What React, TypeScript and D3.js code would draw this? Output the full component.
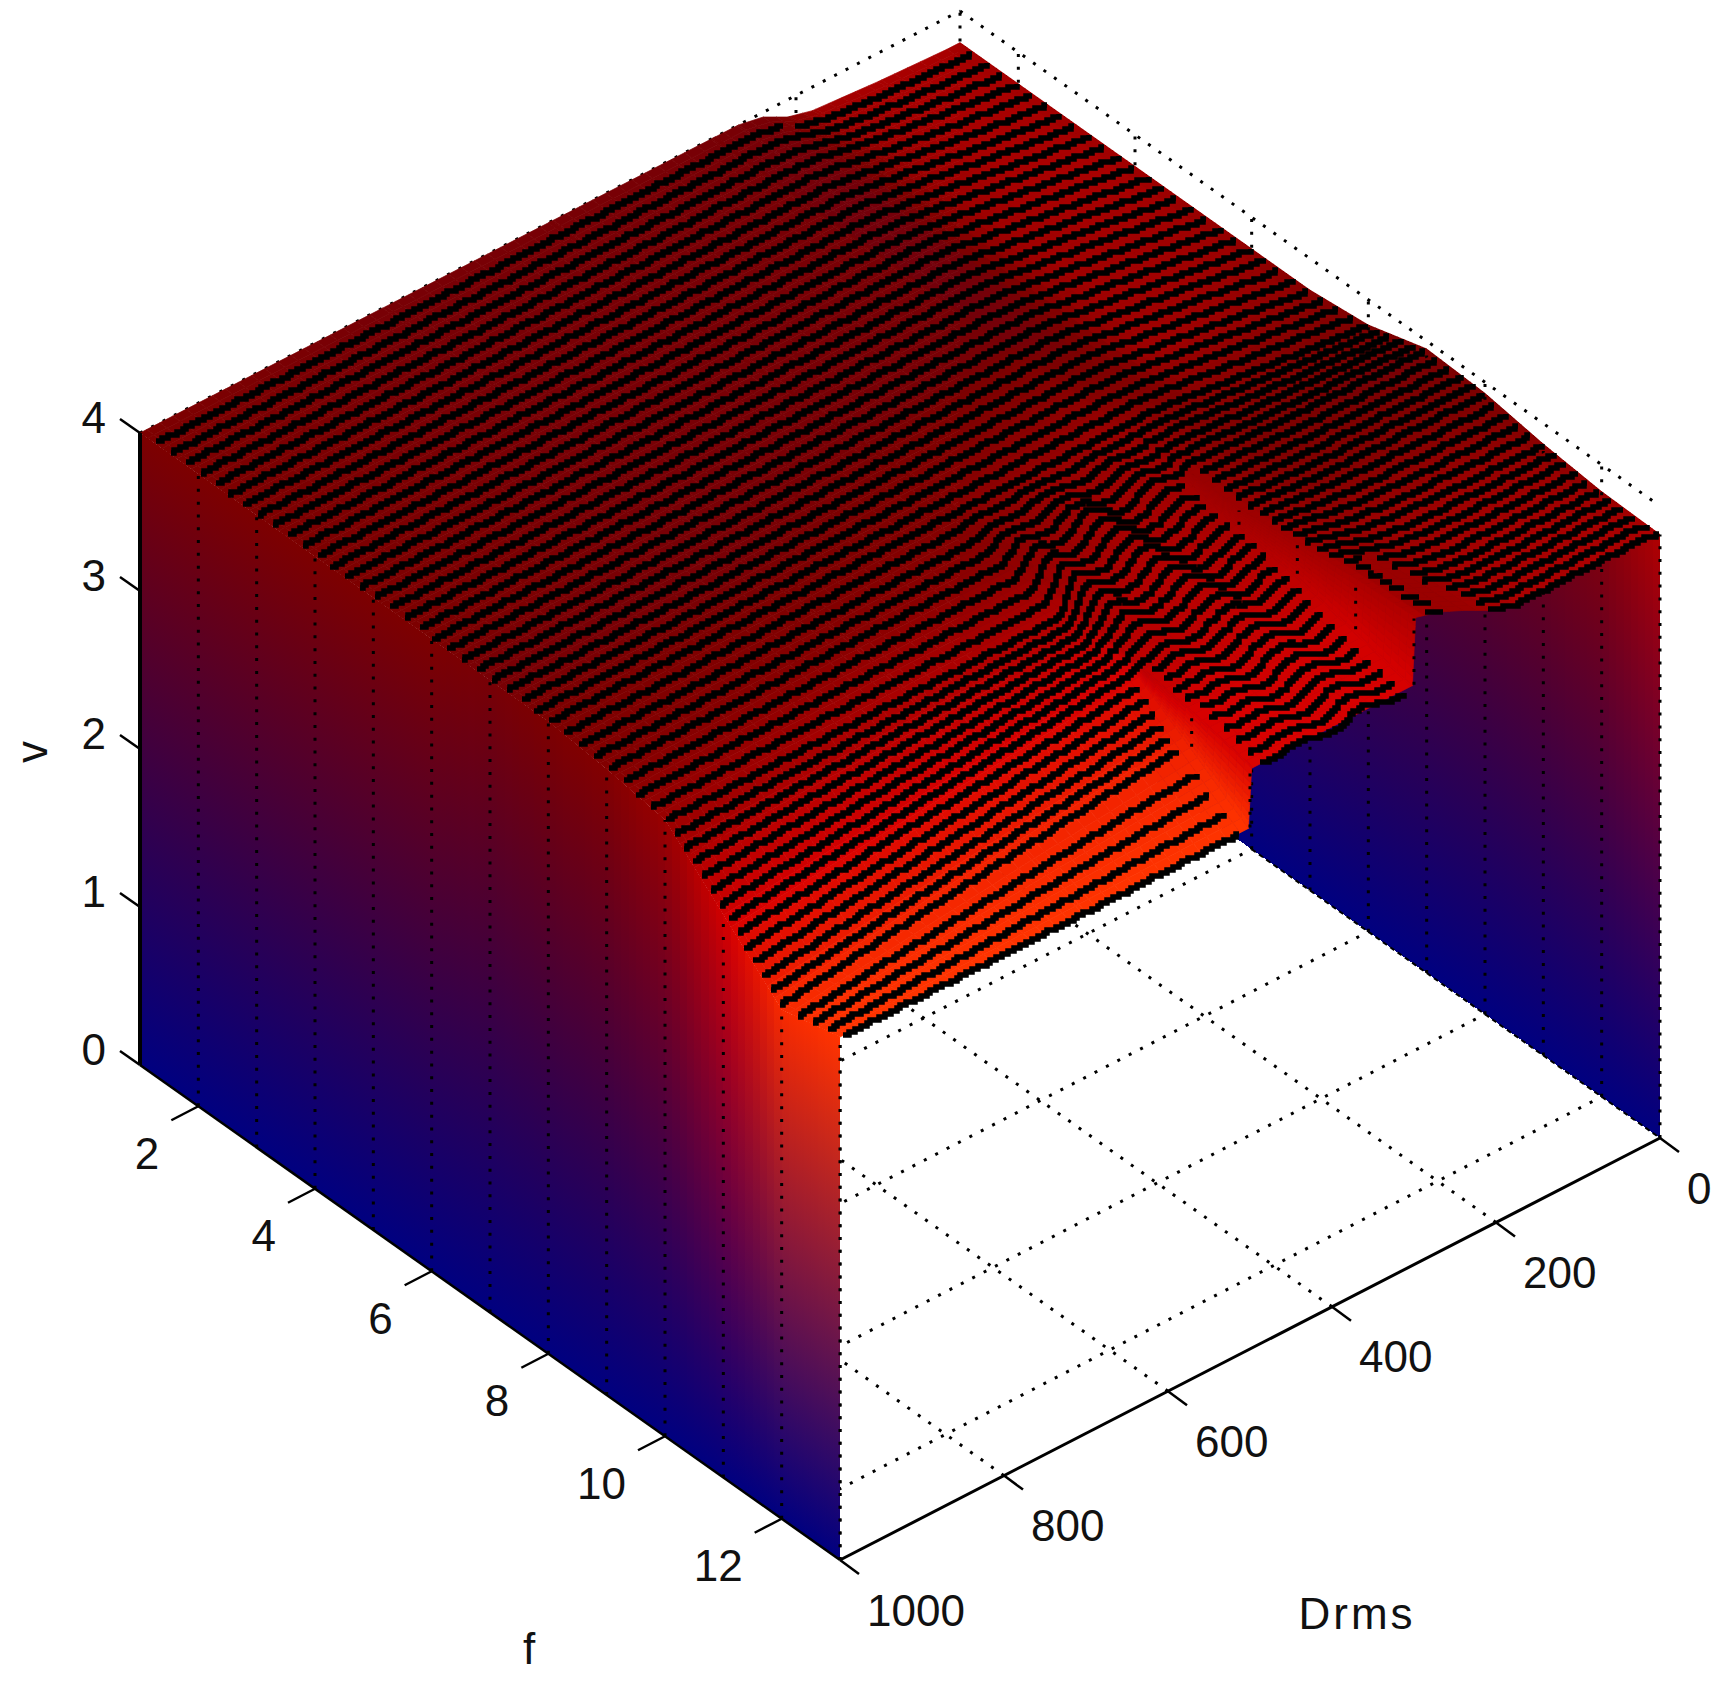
import React, { useEffect, useRef } from 'react';
import * as d3 from 'd3';

const W = 1711;
const H = 1685;

// axis ticks
const fTicks = [2, 4, 6, 8, 10, 12];
const drmsTicks = [0, 200, 400, 600, 800, 1000];
const vTicks = [0, 1, 2, 3, 4];
const wallDots = [2, 3, 4, 5, 6, 7, 8, 9, 10, 11, 12, 13];

// surface: one row per f, one column per Drms knot
const fKnots = [1, 2, 3, 4, 5, 6, 7, 8, 9, 10, 11, 12, 13];
const drmsKnots = [0, 16, 100, 180, 210, 240, 270, 298, 302, 400, 498, 502, 700, 1000];

const vTable = [
  [3.80, 3.80, 3.82, 3.85, 3.89, 3.97, 4.00, 4.00, 4.00, 4.00, 4.00, 4.00, 4.00, 4.00],
  [3.80, 3.81, 3.86, 3.92, 3.95, 3.98, 4.00, 4.00, 4.00, 4.00, 4.00, 4.00, 4.00, 4.00],
  [3.80, 3.81, 3.87, 3.94, 3.96, 3.98, 4.00, 4.00, 4.00, 4.00, 4.00, 4.00, 4.00, 4.00],
  [3.80, 3.81, 3.88, 3.94, 3.96, 3.99, 4.00, 4.00, 4.00, 4.00, 4.00, 4.00, 4.00, 4.00],
  [3.80, 3.81, 3.88, 3.94, 3.96, 3.99, 4.00, 4.00, 4.00, 4.00, 4.00, 4.00, 4.00, 4.00],
  [3.80, 3.81, 3.88, 3.94, 3.96, 3.99, 4.00, 4.00, 4.00, 4.00, 4.00, 4.00, 4.00, 4.00],
  [3.80, 3.81, 3.88, 3.94, 3.96, 3.99, 4.00, 4.00, 4.00, 4.00, 4.00, 4.00, 4.00, 4.00],
  [3.84, 3.85, 3.90, 3.95, 3.97, 3.99, 4.00, 4.00, 4.00, 4.00, 4.00, 4.00, 4.00, 4.00],
  [3.95, 3.95, 3.96, 3.97, 3.98, 3.99, 4.00, 4.00, 3.97, 3.97, 3.98, 3.97, 3.97, 3.96],
  [3.93, 3.93, 3.94, 3.95, 3.96, 3.97, 3.98, 3.99, 3.90, 3.90, 3.91, 3.90, 3.90, 3.90],
  [3.87, 3.87, 3.88, 3.90, 3.92, 3.95, 4.00, 4.03, 3.85, 3.83, 3.81, 3.80, 3.70, 3.56],
  [3.83, 3.85, 3.85, 3.86, 3.89, 3.95, 4.03, 4.07, 3.76, 3.75, 3.75, 3.55, 3.43, 3.22],
  [3.82, 3.85, 3.85, 3.85, 3.90, 3.98, 4.05, 4.09, 3.67, 3.67, 3.67, 3.30, 3.30, 3.31],
];

// colour value of the same knots, 0 is the bottom of the map and 1 the top
const cTable = [
  [.62, .65, .65, .62, .52, .48, .48, .48, .48, .48, .48, .48, .48, .50],
  [.62, .65, .65, .60, .50, .47, .47, .47, .48, .48, .48, .48, .48, .50],
  [.60, .65, .65, .60, .52, .46, .46, .46, .48, .48, .48, .48, .48, .50],
  [.60, .65, .65, .62, .55, .47, .46, .46, .48, .48, .48, .48, .48, .50],
  [.58, .62, .63, .62, .56, .48, .46, .46, .48, .48, .48, .48, .48, .50],
  [.55, .60, .62, .62, .58, .50, .47, .47, .48, .48, .48, .48, .48, .50],
  [.52, .56, .60, .62, .60, .52, .50, .52, .54, .52, .50, .50, .48, .48],
  [.50, .50, .52, .55, .55, .52, .55, .58, .60, .58, .54, .52, .50, .50],
  [.50, .48, .48, .50, .50, .52, .56, .60, .62, .62, .56, .56, .54, .52],
  [.50, .50, .52, .52, .52, .54, .58, .62, .66, .68, .65, .68, .66, .60],
  [.52, .58, .60, .60, .60, .58, .60, .64, .72, .72, .72, .80, .80, .78],
  [.56, .62, .64, .64, .62, .60, .60, .66, .78, .78, .80, .93, .94, .96],
  [.68, .66, .66, .66, .62, .60, .60, .68, .80, .80, .82, 1.0, 1.0, 1.0],
];

// wiggle of the mesh lines between the two steps
const rippleDrms = [300, 310, 320, 330, 340, 350, 360, 370, 380, 390, 400, 410, 420, 430, 440, 450, 460, 470, 480, 490, 500];
const rippleV = [0, .02, .03, .02, 0, -.03, -.045, -.03, 0, .035, .05, .035, 0, -.035, -.045, -.03, 0, .02, .03, .015, 0];
const rippleF = [8, 9, 10, 11, 12, 13];
const rippleWeight = [0, 1.2, 1.2, .9, .9, .7];

const colorDomain = [0, .5, .65, .8, 1];
const colorRange = ['#000080', '#7d0000', '#a80000', '#d70000', '#ff3400'];

// projection, corners of the box measured on the picture
const xF = d3.scaleLinear().domain([1, 13]).range([0, 700]);
const yF = d3.scaleLinear().domain([1, 13]).range([0, 495]);
const xD = d3.scaleLinear().domain([1000, 0]).range([0, 820]);
const yD = d3.scaleLinear().domain([1000, 0]).range([0, -422]);
const yV = d3.scaleLinear().domain([0, 4]).range([0, -632]);
const project = (f: number, d: number, v: number): [number, number] => [
  140 + xF(f) + xD(d),
  1065 + yF(f) + yD(d) + yV(v),
];

const lookup = (table: number[][], f: number, d: number) => {
  const i = Math.min(fKnots.length - 2, Math.max(0, d3.bisectRight(fKnots, f) - 1));
  const j = Math.min(drmsKnots.length - 2, Math.max(0, d3.bisectRight(drmsKnots, d) - 1));
  const tf = (f - fKnots[i]) / (fKnots[i + 1] - fKnots[i]);
  const td = (d - drmsKnots[j]) / (drmsKnots[j + 1] - drmsKnots[j]);
  const a = table[i][j] + (table[i][j + 1] - table[i][j]) * td;
  const b = table[i + 1][j] + (table[i + 1][j + 1] - table[i + 1][j]) * td;
  return a + (b - a) * tf;
};

const colormap = d3.scaleLinear<string>().domain(colorDomain).range(colorRange).interpolate(d3.interpolateRgb);
const rippleOfD = d3.scaleLinear().domain(rippleDrms).range(rippleV).clamp(true);
const rippleOfF = d3.scaleLinear().domain(rippleF).range(rippleWeight).clamp(true);

const DOTS = '3 9.8';

function App() {
  const ref = useRef<SVGSVGElement>(null);

  useEffect(() => {
    const svg = d3.select(ref.current);
    svg.selectAll('*').remove();
    const defs = svg.append('defs');
    const g = svg.append('g');
    const segment = (a: [number, number], b: [number, number], width: number, dash?: string) => {
      const l = g.append('line')
        .attr('x1', a[0]).attr('y1', a[1]).attr('x2', b[0]).attr('y2', b[1])
        .attr('stroke', '#000').attr('stroke-width', width);
      if (dash) l.attr('stroke-dasharray', dash);
      return l;
    };

    // grid behind the surface
    fTicks.forEach((f) => {
      segment(project(f, 1000, 0), project(f, 0, 0), 3, DOTS);
      segment(project(f, 0, 0), project(f, 0, 4), 3, DOTS);
    });
    drmsTicks.slice(1, 5).forEach((d) => {
      segment(project(13, d, 0), project(1, d, 0), 3, DOTS);
      segment(project(1, d, 0), project(1, d, 4), 3, DOTS);
    });
    segment(project(1, 1000, 4), project(1, 0, 4), 3, DOTS);
    segment(project(1, 0, 4), project(13, 0, 4), 3, DOTS);
    segment(project(1, 0, 0), project(1, 0, 4), 3, DOTS);
    segment(project(13, 1000, 0), project(13, 1000, 4), 3, DOTS);

    // surface strips, far to near
    const drmsSamples = Array.from(new Set([
      ...d3.range(0, 1000, 16),
      ...d3.range(298, 302.01, 0.5),
      ...d3.range(498, 502.01, 0.5),
      ...drmsKnots,
    ])).sort((a, b) => a - b);
    const quad = (pts: [number, number][], fill: string) => {
      g.append('path')
        .attr('d', 'M' + pts.map((p) => p.join(',')).join('L') + 'Z')
        .attr('fill', fill)
        .attr('stroke', fill)
        .attr('stroke-width', 0.7);
    };
    let gradId = 0;
    const wall = (f0: number, f1: number, d: number) => {
      const fm = (f0 + f1) / 2;
      const b0 = project(f0, d, 0);
      const b1 = project(f1, d, 0);
      const t0 = project(f0, d, lookup(vTable, f0, d));
      const t1 = project(f1, d, lookup(vTable, f1, d));
      // gradient runs square to the foot of the wall, so its colour bands follow the foot
      const sx = b1[0] - b0[0];
      const sy = b1[1] - b0[1];
      const len = Math.hypot(sx, sy);
      const nx = sy / len;
      const ny = -sx / len;
      const height = project(fm, d, 0)[1] - project(fm, d, lookup(vTable, fm, d))[1];
      const reach = -height * ny;
      const id = `wall${gradId++}`;
      const grad = defs.append('linearGradient')
        .attr('id', id)
        .attr('gradientUnits', 'userSpaceOnUse')
        .attr('x1', b0[0]).attr('y1', b0[1])
        .attr('x2', b0[0] + nx * reach).attr('y2', b0[1] + ny * reach);
      grad.append('stop').attr('offset', 0).attr('stop-color', colormap(0));
      grad.append('stop').attr('offset', 1).attr('stop-color', colormap(lookup(cTable, fm, d)));
      g.append('path')
        .attr('d', 'M' + [b0, b1, t1, t0].map((p) => p.join(',')).join('L') + 'Z')
        .attr('fill', `url(#${id})`)
        .attr('shape-rendering', 'crispEdges');
    };

    const strips = d3.range(1, 13, 0.125);
    strips.forEach((f0) => {
      const f1 = f0 + 0.125;
      wall(f0, f1, 0);
      if (f0 > 5.9) segment(project(f0, 0, 0), project(f1, 0, 0), 2, '5 4');
      for (let k = 0; k < drmsSamples.length - 1; k++) {
        const d0 = drmsSamples[k];
        const d1 = drmsSamples[k + 1];
        const dm = (d0 + d1) / 2;
        quad([
          project(f0, d0, lookup(vTable, f0, d0)),
          project(f1, d0, lookup(vTable, f1, d0)),
          project(f1, d1, lookup(vTable, f1, d1)),
          project(f0, d1, lookup(vTable, f0, d1)),
        ], colormap(lookup(cTable, f0 + 0.0625, dm)));
      }
      // dotted line of the back wall, covered by whatever comes nearer
      if (wallDots.includes(f0)) {
        segment(project(f0, 0, 0), project(f0, 0, lookup(vTable, f0, 0)), 3, DOTS);
      }
    });
    strips.forEach((f0) => wall(f0, f0 + 0.125, 1000));
    wallDots.forEach((f) => {
      segment(project(f, 1000, 0), project(f, 1000, lookup(vTable, f, 1000)), 3, DOTS);
      [300, 500].forEach((d) => {
        const hi = lookup(vTable, f, d - 2);
        const lo = lookup(vTable, f, d + 2);
        if (hi - lo > 0.04) segment(project(f, d, lo), project(f, d, hi), 3, DOTS);
      });
    });
    segment(project(13, 0, 0), project(13, 0, lookup(vTable, 13, 0)), 3, DOTS);

    // mesh lines along Drms, blocky like the source bitmap
    // they bunch up towards the D=1000 wall above f=10 and even out again behind the first step
    const meshFront = [...d3.range(1.25, 10.01, 0.25), ...d3.range(10.15, 12.01, 0.15), ...d3.range(12.25, 13.01, 0.25)];
    const firstBack = meshFront.findIndex((f) => f > 8);
    const backStep = 5 / (meshFront.length - firstBack);
    const meshBack = meshFront.map((f, i) => (i < firstBack ? f : 8 + (i - firstBack + 1) * backStep));
    const meshDrms = d3.range(998, 1, -4);
    const snap = (n: number) => Math.round(n / 3) * 3;
    const meshLine = d3.line<[number, number, boolean]>()
      .defined((p) => p[2])
      .x((p) => snap(p[0]))
      .y((p) => snap(p[1]))
      .curve(d3.curveStepAfter);
    meshFront.forEach((front, i) => {
      const fAt = d3.scaleLinear().domain([470, 520]).range([meshBack[i], front]).clamp(true);
      const pts = meshDrms.map((d) => {
        const f = fAt(d);
        const v = lookup(vTable, f, d) + rippleOfD(d + (f - 10) * 12) * rippleOfF(f);
        const jump = lookup(vTable, f, d - 9) - lookup(vTable, f, d + 9);
        const p = project(f, d, v);
        return [p[0], p[1], Math.abs(jump) < 0.04 || d > 990] as [number, number, boolean];
      });
      g.append('path')
        .attr('d', meshLine(pts))
        .attr('fill', 'none')
        .attr('stroke', '#000')
        .attr('stroke-width', 5.5);
    });

    // axes
    segment(project(1, 1000, 0), project(1, 1000, 4), 4);
    segment(project(1, 1000, 0), project(13, 1000, 0), 2.5);
    segment(project(13, 1000, 0), project(13, 0, 0), 3);

    const text = (x: number, y: number, s: string, anchor: string) =>
      g.append('text')
        .attr('x', x).attr('y', y)
        .attr('text-anchor', anchor)
        .attr('dominant-baseline', 'central')
        .attr('font-family', '"Liberation Sans", sans-serif')
        .attr('font-size', 44)
        .attr('fill', '#111')
        .text(s);

    vTicks.forEach((v) => {
      const p = project(1, 1000, v);
      segment(p, [p[0] - 20, p[1] - 14], 2.5);
      text(106, p[1] - 16, String(v), 'end');
    });
    fTicks.forEach((f) => {
      const p = project(f, 1000, 0);
      segment(p, [p[0] - 27, p[1] + 14], 2.5);
      text(p[0] - 39, p[1] + 47, String(f), 'end');
    });
    drmsTicks.forEach((d) => {
      const p = project(13, d, 0);
      segment(p, [p[0] + 19, p[1] + 14], 2.5);
      text(p[0] + 27, p[1] + 50, String(d), 'start');
    });
    text(1357, 1613, 'Drms', 'middle').attr('letter-spacing', 3);
    text(529, 1648, 'f', 'middle');
    text(31, 752, 'v', 'middle').attr('transform', 'rotate(-90 31 752)');
  }, []);

  return (
    <svg
      ref={ref}
      width={W}
      height={H}
      viewBox={`0 0 ${W} ${H}`}
      style={{ position: 'absolute', left: 0, top: 0, background: '#fff' }}
    />
  );
}

export default App;
